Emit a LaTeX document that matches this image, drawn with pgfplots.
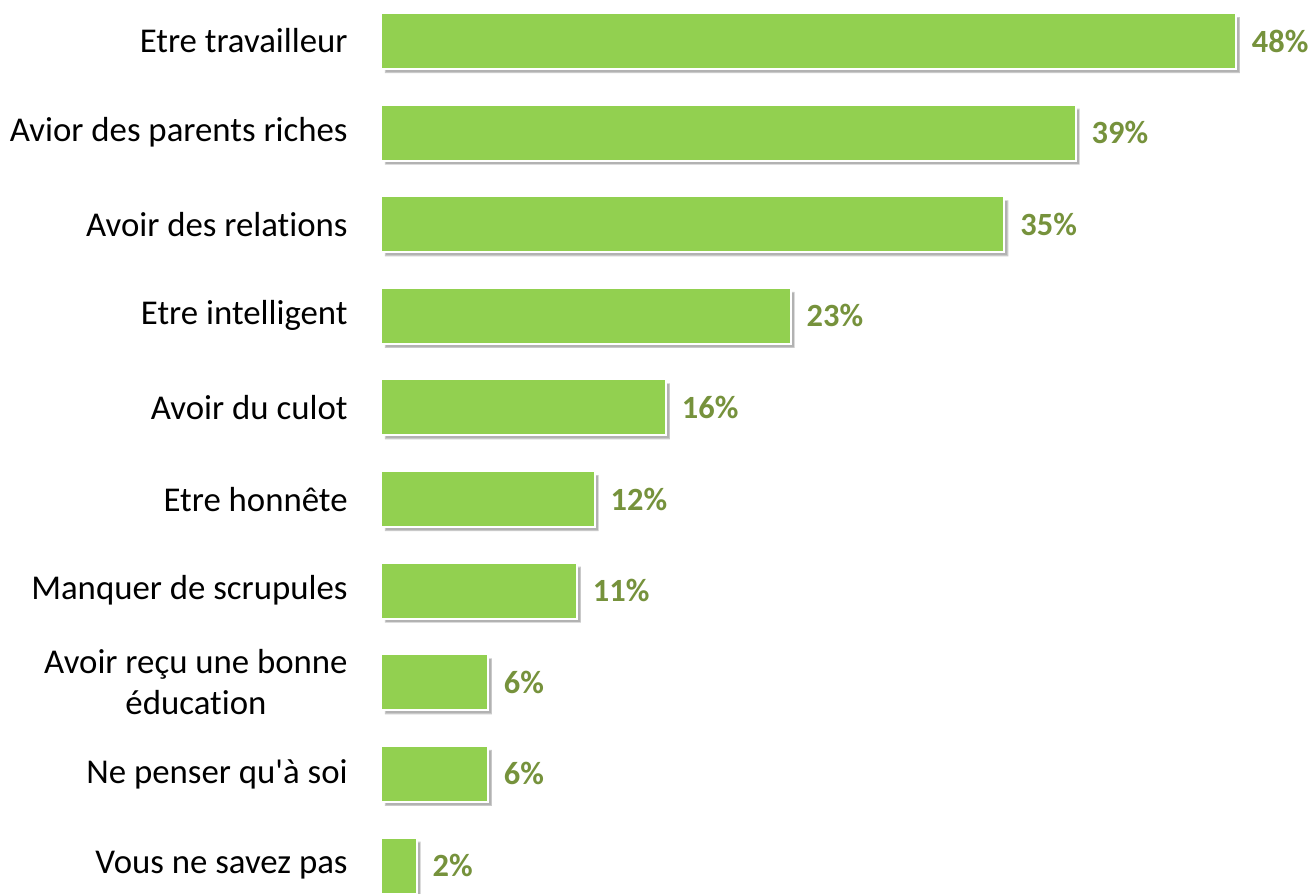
\documentclass[border=0pt]{standalone}
\usepackage{pgfplots}
\pgfplotsset{compat=1.18}
\usepackage{fontspec}
\setmainfont{Carlito}[Ligatures={TeX,NoCommon}]
\usetikzlibrary{shadows}
\definecolor{bargreen}{HTML}{92D050}
\definecolor{valgreen}{HTML}{76923C}

\begin{document}
\begin{tikzpicture}
  \begin{axis}[name=ax,
               xbar, bar shift=0pt, bar width=28pt,
               scale only axis, width=464pt, height=446.5pt,
               xmin=0, xmax=52.1,
               ymin=-0.448, ymax=9.30, y dir=reverse,
               axis line style={draw=none},
               major tick length=0pt,
               xtick=\empty,
               ytick={0,...,9},
               yticklabels={Etre travailleur, Avior des parents riches,
                 Avoir des relations, Etre intelligent, Avoir du culot,
                 Etre honnête, Manquer de scrupules,
                 {Avoir reçu une bonne\\éducation}, Ne penser qu\textquotesingle à soi,
                 Vous ne savez pas},
               yticklabel style={anchor=east, inner sep=0pt, xshift=-16.5pt,
                 align=center, font=\fontsize{17.4}{20.5}\selectfont},
               /pgf/number format/assume math mode=true,
               nodes near coords={\pgfmathprintnumber{\pgfplotspointmeta}\%},
               nodes near coords style={anchor=west, inner sep=0pt, xshift=7.5pt,
                 text=valgreen, font=\fontsize{16.2}{19}\selectfont\bfseries},
               clip=false]
   \addplot[fill=bargreen, draw=white, line width=1pt,
            drop shadow={shadow xshift=2pt, shadow yshift=-2pt, fill=black, opacity=0.3}]
     coordinates {
      (48,0) (39,1) (35,2) (23,3) (16,4)
      (12,5) (11,6) (6,7) (6,8) (2,9)
     };
  \end{axis}
  \pgfresetboundingbox
  \path ([xshift=-190.5pt]ax.south west) rectangle (ax.north east);
\end{tikzpicture}
\end{document}
